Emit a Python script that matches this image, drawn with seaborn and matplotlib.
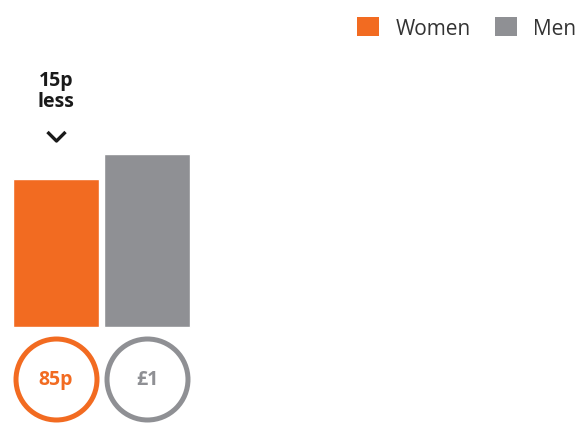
import matplotlib
matplotlib.use("Agg")
import matplotlib.pyplot as plt
from matplotlib.path import Path
from matplotlib.patches import Patch
import seaborn as sns
import pandas as pd

# ---- data ----
genders = ["Women", "Men"]
pay = [0.85, 1.00]
pay_labels = ["85p", "£1"]
gap_label = "15p\nless"
colors = ["#F26B21", "#8F9094"]

sns.set_theme(style="white")
plt.rcParams["font.family"] = ["Open Sans", "DejaVu Sans"]

W, H = 575, 427
fig = plt.figure(figsize=(W / 100, H / 100), dpi=100)
ax = fig.add_axes([0, 0, 1, 1])

df = pd.DataFrame({"gender": genders, "pay": pay})
sns.barplot(data=df, x="gender", y="pay", hue="gender", palette=colors,
            order=genders, hue_order=genders, width=0.945, legend=False,
            saturation=1, ax=ax)

# layout: 91 px per category, 173 px per £1, baseline at 327 px from top
px_x, px_y = 91.0, 173.0
cx0, base = 56.0, 327.5
ax.set_xlim(-cx0 / px_x, (W - cx0) / px_x)
ax.set_ylim(-(H - base) / px_y, base / px_y)
ax.axis("off")

# value circles below the bars
circ_y = -(380 - base) / px_y
for i, (lab, c) in enumerate(zip(pay_labels, colors)):
    ax.scatter([i], [circ_y], s=3400, facecolor="white", edgecolor=c,
               linewidth=3.6, zorder=3)
    ax.text(i, circ_y, lab, color=c, fontsize=14, fontweight="bold",
            ha="center", va="center", zorder=4)

# gap annotation above the women bar
ax.annotate(gap_label, xy=(0, pay[0]), xytext=(0, 89), textcoords="offset pixels",
            ha="center", va="center", fontsize=14, fontweight="bold",
            color="#1a1a1a", linespacing=1.1)
chevron = Path([(-1, 0.5), (0, -0.5), (1, 0.5)],
               [Path.MOVETO, Path.LINETO, Path.LINETO])
ax.plot([0], [pay[0] + 43 / px_y], marker=chevron, markersize=13,
        markerfacecolor="none", markeredgecolor="#1a1a1a", markeredgewidth=2.4,
        linestyle="none")

# legend top right
handles = [Patch(facecolor=c, edgecolor="none", label=g) for g, c in zip(genders, colors)]
leg = fig.legend(handles=handles, loc="upper left", bbox_to_anchor=(357 / W, 1 - 18 / H),
                 ncol=2, frameon=False, fontsize=15, handlelength=1.05, handleheight=1.05,
                 handletextpad=0.8, columnspacing=1.15, borderpad=0, borderaxespad=0)
for t in leg.get_texts():
    t.set_color("#333333")

fig.savefig("out.png", dpi=100)
